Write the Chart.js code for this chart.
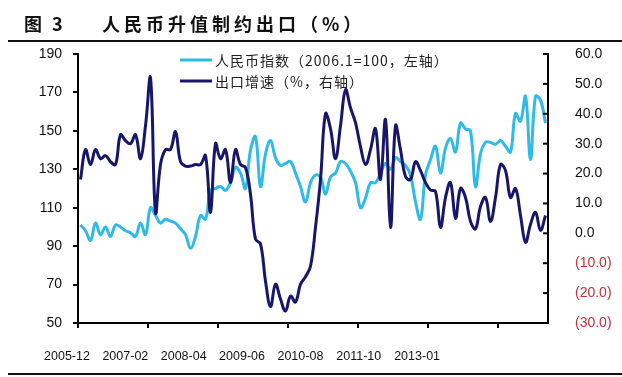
<!DOCTYPE html>
<html>
<head>
<meta charset="utf-8">
<script src="https://cdn.jsdelivr.net/npm/chart.js@4.4.1/dist/chart.umd.min.js"></script>
<style>
  html, body { margin: 0; padding: 0; background: #fff; }
</style>
</head>
<body>
<canvas id="myChart" width="622" height="377"></canvas>
<script>
const ctx = document.getElementById('myChart')

const titleNo = '图 3'
const titleText = '人民币升值制约出口（%）'
const seriesNames = ['人民币指数（2006.1=100，左轴）', '出口增速（%，右轴）']
const tickLabels = ['2005-12', '2007-02', '2008-04', '2009-06', '2010-08', '2011-10', '2013-01']

// monthly, 2005-12 .. 2013-09
const months = []
for (let k = 0; k < 94; k++) {
    const m = (11 + k) % 12 + 1
    const yr = 2005 + Math.floor((11 + k) / 12)
    months.push(yr + '-' + String(m).padStart(2, '0'))
}

const rmbIndex = [
    101, 98, 93, 102, 96, 100, 95, 101, 100, 98,
    97, 95, 102, 96, 110, 106, 102, 104, 103, 102,
    99, 96, 89, 95, 106, 104, 119, 120, 121, 119,
    123, 131, 128, 120, 140, 147, 121, 138, 145, 136,
    132, 133, 134, 128, 121, 113, 123, 127, 126, 117,
    126, 128, 134, 133, 129, 123, 110, 115, 123, 123,
    128, 133, 130, 136, 134, 132, 127, 113, 104, 127,
    135, 142, 128, 141, 146, 139, 154, 151, 150, 121,
    138, 144, 144, 143, 145, 142, 139, 159, 155, 168,
    135, 168, 166, 154
]

const exportGrowth = [
    18, 28, 23, 28, 25, 26, 24, 23, 33, 31,
    30, 33, 25, 36, 52, 7, 23, 28, 28, 34,
    24, 22.5, 22.5, 23, 23, 26, 7, 30, 25, 28,
    17, 28, 23, 22, 13, -2, -3.5, -16, -24.5, -17,
    -22, -26, -21, -23, -17, -14.5, -11, 2, 18, 40,
    35, 25, 36, 48, 42, 37, 29, 23, 28, 35,
    18, 38, 2, 36, 28, 19, 18, 24, 21, 17,
    14.5, 14, 2, 12, 17, 5, 15, 12, 4, 1.5,
    9, 12, 4, 12, 23, 21, 12, 15, 6, -3,
    3, 7, 1, 6
]

const LIGHT = '#2fbbe6'
const DARK = '#17166b'
const RED = '#c0313a'
const numFont = { family: '"Liberation Sans", Arial, sans-serif', size: 14 }

const decor = {
    id: 'decor',
    beforeDraw(chart) {
        const c = chart.ctx
        c.save()
        c.fillStyle = '#fff'
        c.fillRect(0, 0, chart.width, chart.height)
        c.restore()
    },
    afterDraw(chart) {
        const c = chart.ctx
        c.save()
        c.fillStyle = '#111'
        c.textBaseline = 'middle'
        c.font = 'bold 18px "Noto Sans CJK SC"'
        c.letterSpacing = '3px'
        c.fillText(titleNo, 24, 24)
        c.letterSpacing = '4px'
        c.fillText(titleText, 102, 24)
        c.fillRect(8, 40, 614, 2)
        c.fillRect(8, 373, 614, 2)

        // right axis ticks point inward
        const r = chart.scales.y1
        c.fillStyle = '#000'
        r.ticks.forEach(t => {
            const yy = r.getPixelForValue(t.value)
            c.fillRect(r.left - 5, yy - 1, 5, 2)
        })

        // legend
        chart.data.datasets.forEach((ds, k) => {
            const yy = 60 + 21 * k
            c.strokeStyle = ds.borderColor
            c.lineWidth = 3
            c.beginPath()
            c.moveTo(180, yy)
            c.lineTo(212, yy)
            c.stroke()
            c.fillStyle = '#222'
            c.font = '14px "Noto Sans CJK SC"'
            c.letterSpacing = '1px'
            c.fillText(ds.label, 215, yy + 1)
        })
        c.restore()
    }
}

const data = {
    datasets: [{
        label: seriesNames[0],
        data: rmbIndex.map((v, i) => ({ x: i, y: v })),
        borderColor: LIGHT,
        yAxisID: 'y',
        order: 1
    }, {
        label: seriesNames[1],
        data: exportGrowth.map((v, i) => ({ x: i, y: v })),
        borderColor: DARK,
        yAxisID: 'y1',
        order: 0
    }]
}

const config = {
    type: 'line',
    data: data,
    plugins: [decor],
    options: {
        responsive: false,
        animation: false,
        devicePixelRatio: 1,
        layout: { padding: { top: 54, left: 0, right: 0, bottom: 0 } },
        elements: {
            point: { radius: 0 },
            line: { borderWidth: 3, tension: 0.4, fill: false }
        },
        plugins: {
            legend: { display: false },
            tooltip: { enabled: false }
        },
        scales: {
            x: {
                type: 'linear',
                position: 'bottom',
                min: -0.5,
                max: 93.5,
                bounds: 'data',
                afterBuildTicks: s => { s.ticks = tickLabels.map((_, k) => ({ value: -0.5 + 14 * k })) },
                ticks: { display: false },
                grid: { drawOnChartArea: false, tickLength: 5, color: '#000', lineWidth: 2 },
                border: { color: '#000', width: 2 }
            },
            xl: {
                type: 'linear',
                position: 'bottom',
                min: -0.5,
                max: 93.5,
                bounds: 'data',
                afterBuildTicks: s => { s.ticks = tickLabels.map((_, k) => ({ value: -2.7 + 11.67 * k })) },
                ticks: {
                    autoSkip: false,
                    maxRotation: 0,
                    padding: 13,
                    color: '#111',
                    font: { family: numFont.family, size: 12.5 },
                    callback: (v, i) => tickLabels[i]
                },
                grid: { display: false },
                border: { display: false },
                afterFit: s => { s.height = 49 }
            },
            y: {
                type: 'linear',
                position: 'left',
                min: 50,
                max: 190,
                ticks: { stepSize: 20, padding: 11, color: '#111', font: numFont },
                grid: { drawOnChartArea: false, tickLength: 5, color: '#000', lineWidth: 2 },
                border: { color: '#000', width: 2 },
                afterFit: s => { s.width = 78 }
            },
            y1: {
                type: 'linear',
                position: 'right',
                min: -30,
                max: 60,
                ticks: {
                    stepSize: 10,
                    padding: 19,
                    font: numFont,
                    color: c => (c.tick && c.tick.value < 0) ? RED : '#111',
                    callback: v => v < 0 ? '(' + (-v).toFixed(1) + ')' : v.toFixed(1)
                },
                grid: { display: false },
                border: { color: '#000', width: 2 },
                afterFit: s => { s.width = 74 }
            }
        }
    }
}

const myChart = new Chart(ctx, config)
</script>
</body>
</html>
